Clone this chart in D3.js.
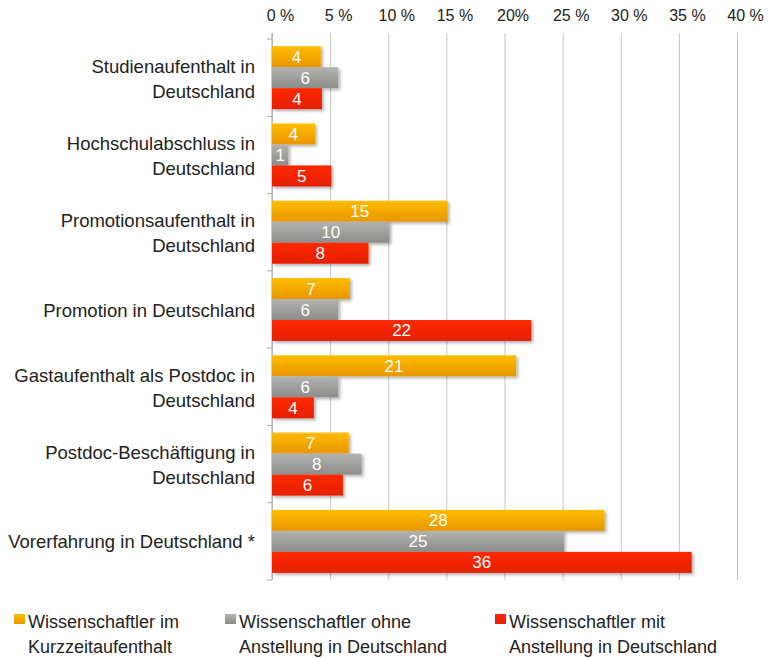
<!DOCTYPE html>
<html>
<head>
<meta charset="utf-8">
<script src="https://cdn.jsdelivr.net/npm/d3@7"></script>
<style>
  body { margin: 0; background: #fff; }
  svg text { font-family: "Liberation Sans", Arial, sans-serif; }
</style>
</head>
<body>
<svg id="chart" width="769" height="658"></svg>
<script>
// categories, one entry per line of the label
const categories = [
  ['Studienaufenthalt in', 'Deutschland'],
  ['Hochschulabschluss in', 'Deutschland'],
  ['Promotionsaufenthalt in', 'Deutschland'],
  ['Promotion in Deutschland'],
  ['Gastaufenthalt als Postdoc in', 'Deutschland'],
  ['Postdoc-Beschäftigung in', 'Deutschland'],
  ['Vorerfahrung in Deutschland *']
]

const seriesNames = [
  ['Wissenschaftler im', 'Kurzzeitaufenthalt'],
  ['Wissenschaftler ohne', 'Anstellung in Deutschland'],
  ['Wissenschaftler mit', 'Anstellung in Deutschland']
]

// percentages (bar lengths)
const kurzzeit = [4.2, 3.7, 15.1, 6.7, 21.0, 6.6, 28.6]
const ohneAnstellung = [5.7, 1.4, 10.1, 5.7, 5.7, 7.7, 25.1]
const mitAnstellung = [4.3, 5.1, 8.3, 22.3, 3.6, 6.1, 36.1]

// printed labels on the bars
const kurzzeitLabels = [4, 4, 15, 7, 21, 7, 28]
const ohneLabels = [6, 1, 10, 6, 6, 8, 25]
const mitLabels = [4, 5, 8, 22, 4, 6, 36]

const tickValues = [0, 5, 10, 15, 20, 25, 30, 35, 40]
const tickLabels = ['0 %', '5 %', '10 %', '15 %', '20%', '25 %', '30 %', '35 %', '40 %']

const seriesColors = [
  ['#ffbd00', '#e89600'],
  ['#b3b3b1', '#8c8c8a'],
  ['#ff2900', '#e41f00']
]

const svg = d3.select('#chart')

const x = d3.scaleLinear().domain([0, 40]).range([272, 737])
const y = d3.scaleBand()
  .domain(d3.range(categories.length))
  .range([39, 580])
  .paddingInner(0.185)
  .paddingOuter(0.0925)
const ySub = d3.scaleBand().domain([0, 1, 2]).range([0, y.bandwidth()])

const defs = svg.append('defs')
seriesColors.forEach((c, i) => {
  const g = defs.append('linearGradient')
    .attr('id', 'grad' + i)
    .attr('x1', 0).attr('y1', 0).attr('x2', 0).attr('y2', 1)
  g.append('stop').attr('offset', '0%').attr('stop-color', c[0])
  g.append('stop').attr('offset', '100%').attr('stop-color', c[1])
})
defs.append('filter')
  .attr('id', 'shadow')
  .attr('x', '-10%').attr('y', '-20%').attr('width', '130%').attr('height', '160%')
  .append('feDropShadow')
  .attr('dx', 2).attr('dy', 2).attr('stdDeviation', 1.5)
  .attr('flood-color', '#000').attr('flood-opacity', 0.3)

// grid + top axis
const xAxis = d3.axisTop(x)
  .tickValues(tickValues)
  .tickSize(-(580 - 33))
  .tickSizeOuter(0)
  .tickFormat((d, i) => tickLabels[i])
const gx = svg.append('g')
  .attr('transform', 'translate(0,33)')
  .call(xAxis)
gx.select('.domain').remove()
gx.selectAll('.tick line').attr('stroke', '#c4c4c4').attr('stroke-width', 1)
gx.selectAll('.tick text')
  .attr('y', -12)
  .attr('dx', 8)
  .attr('fill', '#222')
  .style('font-size', '16px')

// left axis
const gy = svg.append('g').attr('transform', 'translate(272,0)')
gy.append('line')
  .attr('x1', 0).attr('x2', 0).attr('y1', 33).attr('y2', 580)
  .attr('stroke', '#a8a8a8')
const boundaries = d3.range(categories.length + 1).map(i => 39 + i * (580 - 39) / categories.length)
gy.selectAll('line.tick')
  .data(boundaries)
  .join('line')
  .attr('class', 'tick')
  .attr('x1', -5).attr('x2', 0)
  .attr('y1', d => d).attr('y2', d => d)
  .attr('stroke', '#a8a8a8')

// category labels
const catG = svg.append('g')
categories.forEach((lines, i) => {
  const c = y(i) + y.bandwidth() / 2
  const first = lines.length === 1 ? c + 7 : c - 5
  const t = catG.append('text')
    .attr('text-anchor', 'end')
    .attr('fill', '#222')
    .style('font-size', '18.5px')
  lines.forEach((l, j) => {
    t.append('tspan').attr('x', 255).attr('y', first + j * 25).text(l)
  })
})

// bars
const series = [
  { values: kurzzeit, labels: kurzzeitLabels },
  { values: ohneAnstellung, labels: ohneLabels },
  { values: mitAnstellung, labels: mitLabels }
]
series.forEach((s, si) => {
  const g = svg.append('g')
  g.selectAll('rect')
    .data(s.values)
    .join('rect')
    .attr('x', x(0))
    .attr('y', (d, i) => y(i) + ySub(si))
    .attr('width', d => x(d) - x(0))
    .attr('height', ySub.bandwidth())
    .attr('fill', 'url(#grad' + si + ')')
    .attr('filter', 'url(#shadow)')
  g.selectAll('text')
    .data(s.values)
    .join('text')
    .attr('x', d => (x(0) + x(d)) / 2)
    .attr('y', (d, i) => y(i) + ySub(si) + ySub.bandwidth() / 2 + 6)
    .attr('text-anchor', 'middle')
    .attr('fill', '#fff')
    .style('font-size', '17px')
    .text((d, i) => s.labels[i])
})

// legend
const legendX = [14, 225, 495]
const legend = svg.append('g')
seriesNames.forEach((lines, i) => {
  legend.append('rect')
    .attr('x', legendX[i]).attr('y', 614)
    .attr('width', 11).attr('height', 10)
    .attr('fill', 'url(#grad' + i + ')')
  const t = legend.append('text')
    .attr('fill', '#222')
    .style('font-size', '18px')
  lines.forEach((l, j) => {
    t.append('tspan').attr('x', legendX[i] + 14).attr('y', 628 + j * 25).text(l)
  })
})
</script>
</body>
</html>
